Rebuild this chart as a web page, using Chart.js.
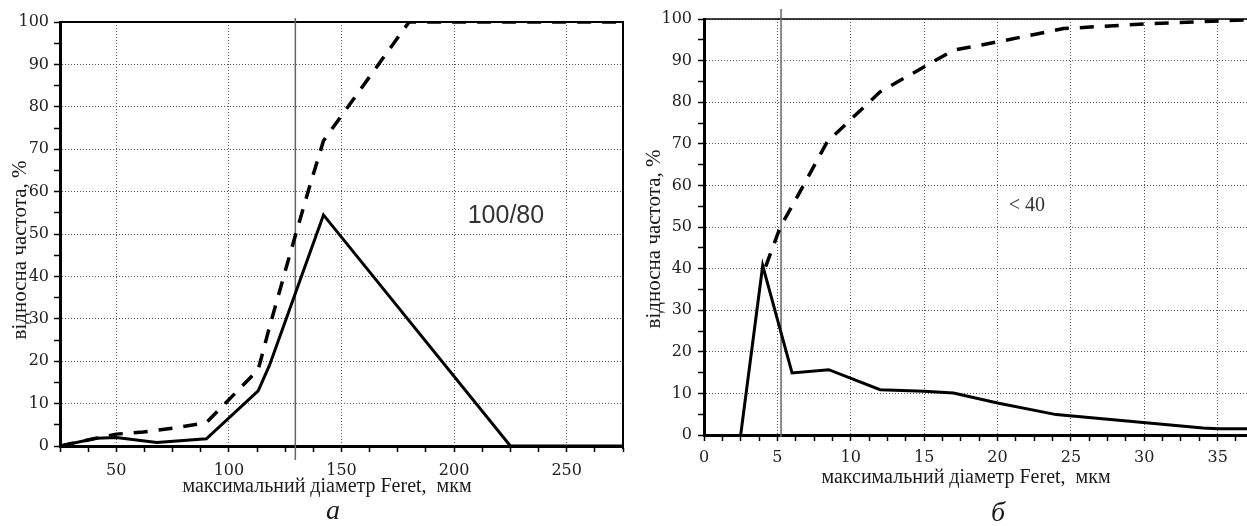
<!DOCTYPE html>
<html>
<head>
<meta charset="utf-8">
<script src="https://cdn.jsdelivr.net/npm/chart.js@4.4.1/dist/chart.umd.min.js"></script>
<style>
  html, body { margin: 0; padding: 0; background: #fff; }
  #wrap { position: relative; width: 1247px; height: 526px; overflow: hidden; }
  canvas { position: absolute; top: 0; }
  #chartA { left: 0; }
  #chartB { left: 640px; }
</style>
</head>
<body>
<div id="wrap">
  <canvas id="chartA" width="640" height="526"></canvas>
  <canvas id="chartB" width="607" height="526"></canvas>
</div>
<script>
// panel "а" : powder 100/80
const sizeA    = [25, 41, 50, 68, 90, 113, 118, 142, 225, 275];
const freqA    = [0, 1.8, 2, 0.8, 1.7, 13, 19, 54.5, 0, 0];
const cumSizeA = [25, 40, 50, 62, 75, 90, 113, 118, 127, 136, 142, 180, 275];
const cumFreqA = [0, 1.7, 2.8, 3.3, 4.2, 5.5, 18, 28, 45, 61.5, 72, 100, 100];
const markerA  = 129.5;

// panel "б" : powder <40
const sizeB    = [2.5, 4, 6, 8.5, 12, 15, 17, 20, 24, 34, 35, 37];
const freqB    = [0, 40.7, 14.9, 15.7, 10.9, 10.5, 10.1, 7.7, 4.9, 1.7, 1.5, 1.5];
const cumSizeB = [4.2, 5.2, 6, 8.4, 12, 17, 20, 24.5, 30, 37];
const cumFreqB = [40.5, 50, 55, 70.5, 82.5, 92.5, 94.5, 97.7, 98.8, 99.8];
const markerB  = 5.25;

const xTitle = 'максимальний діаметр Feret,  мкм';
const yTitle = 'відносна частота, %';

const toPoints = (xs, ys) => xs.map((x, i) => ({ x: x, y: ys[i] }));

// frame, reference line and loose texts
const decor = {
  id: 'decor',
  beforeDatasetsDraw(chart, args, o) {
    const { ctx, chartArea: a, scales: { x } } = chart;
    ctx.save();
    ctx.strokeStyle = '#000';
    ctx.lineWidth = o.frameWidth;
    ctx.beginPath();
    ctx.moveTo(a.left, a.top);
    ctx.lineTo(a.right, a.top);
    if (o.rightFrame) ctx.lineTo(a.right, a.bottom + 3);
    ctx.stroke();

    const mx = x.getPixelForValue(o.marker);
    ctx.strokeStyle = '#666';
    ctx.lineWidth = 1.5;
    ctx.beginPath();
    ctx.moveTo(mx, o.markerTop);
    ctx.lineTo(mx, o.markerBottom);
    ctx.stroke();
    ctx.restore();
  },
  afterDraw(chart, args, o) {
    const { ctx, scales: { x, y } } = chart;
    ctx.save();
    ctx.fillStyle = '#1a1a1a';
    ctx.textAlign = 'center';
    ctx.textBaseline = 'middle';

    ctx.font = '20px "Liberation Serif"';
    ctx.fillText(xTitle, o.xTitlePos[0], o.xTitlePos[1]);

    ctx.save();
    ctx.font = '21px "Liberation Serif"';
    ctx.translate(o.yTitlePos[0], o.yTitlePos[1]);
    ctx.rotate(-Math.PI / 2);
    ctx.fillText(yTitle, 0, 0);
    ctx.restore();

    ctx.font = 'italic 28px "Liberation Serif"';
    ctx.fillText(o.caption, o.captionPos[0], o.captionPos[1]);

    ctx.font = o.noteFont;
    ctx.fillStyle = '#333';
    ctx.fillText(o.note, x.getPixelForValue(o.noteAt[0]), y.getPixelForValue(o.noteAt[1]));
    ctx.restore();
  }
};

function makeChart(id, cfg) {
  const ctx = document.getElementById(id).getContext('2d');
  return new Chart(ctx, {
    type: 'line',
    data: {
      datasets: [
        {
          label: 'частота',
          data: toPoints(cfg.xs, cfg.ys),
          borderColor: '#000',
          borderWidth: 3,
          pointRadius: 0,
          tension: 0,
          fill: false
        },
        {
          label: 'накопичена',
          data: toPoints(cfg.cxs, cfg.cys),
          borderColor: '#000',
          borderWidth: 3.5,
          borderDash: [14, 11],
          pointRadius: 0,
          tension: 0,
          fill: false
        }
      ]
    },
    plugins: [decor],
    options: {
      responsive: false,
      animation: false,
      devicePixelRatio: 1,
      layout: { padding: cfg.padding },
      plugins: {
        legend: { display: false },
        tooltip: { enabled: false },
        decor: cfg.decor
      },
      scales: {
        x: {
          type: 'linear',
          min: cfg.xMin,
          max: cfg.xMax,
          afterFit: s => { s.height = cfg.xAxisH; },
          border: { color: '#000', width: 3, dash: [1, 2] },
          grid: {
            color: c => (c.tick && c.tick.value % cfg.xMajor === 0) ? '#555' : 'rgba(0,0,0,0)',
            lineWidth: 1,
            tickColor: '#000',
            tickWidth: 1.5,
            tickLength: 6
          },
          ticks: {
            stepSize: cfg.xStep,
            includeBounds: false,
            autoSkip: false,
            maxRotation: 0,
            minRotation: 0,
            padding: cfg.xPad,
            color: '#222',
            font: { family: 'DejaVu Serif', size: 16 },
            callback: v => (v % cfg.xMajor === 0 ? v : '')
          }
        },
        y: {
          type: 'linear',
          min: 0,
          max: 100,
          afterFit: s => { s.width = cfg.yAxisW; },
          border: { color: '#000', width: 3, dash: [1, 2] },
          grid: {
            color: c => (c.tick && c.tick.value % 10 === 0) ? '#555' : 'rgba(0,0,0,0)',
            lineWidth: 1,
            tickColor: '#000',
            tickWidth: 1.5,
            tickLength: 6
          },
          ticks: {
            stepSize: 5,
            autoSkip: false,
            padding: cfg.yPad,
            color: '#222',
            font: { family: 'DejaVu Serif', size: 16 },
            callback: v => (v % 10 === 0 ? v : '')
          }
        }
      }
    }
  });
}

makeChart('chartA', {
  xs: sizeA, ys: freqA, cxs: cumSizeA, cys: cumFreqA,
  xMin: 25, xMax: 275, xStep: 12.5, xMajor: 50,
  xAxisH: 80, yAxisW: 60, xPad: 9, yPad: 5,
  padding: { top: 22, right: 17, left: 0, bottom: 0 },
  decor: {
    frameWidth: 2, rightFrame: true,
    marker: markerA, markerTop: 18, markerBottom: 460,
    xTitlePos: [327, 487], yTitlePos: [20, 250],
    caption: 'а', captionPos: [333, 512],
    note: '100/80', noteAt: [223, 54.2], noteFont: '25px "Liberation Sans"'
  }
});

makeChart('chartB', {
  xs: sizeB, ys: freqB, cxs: cumSizeB, cys: cumFreqB,
  xMin: 0, xMax: 37, xStep: 1.25, xMajor: 5,
  xAxisH: 91, yAxisW: 64, xPad: 7, yPad: 6,
  padding: { top: 19, right: 0, left: 0, bottom: 0 },
  decor: {
    frameWidth: 1.5, rightFrame: false,
    marker: markerB, markerTop: 9, markerBottom: 437,
    xTitlePos: [326, 478], yTitlePos: [14, 239],
    caption: 'б', captionPos: [358, 514],
    note: '< 40', noteAt: [22, 55], noteFont: '20px "Liberation Serif"'
  }
});
</script>
</body>
</html>
